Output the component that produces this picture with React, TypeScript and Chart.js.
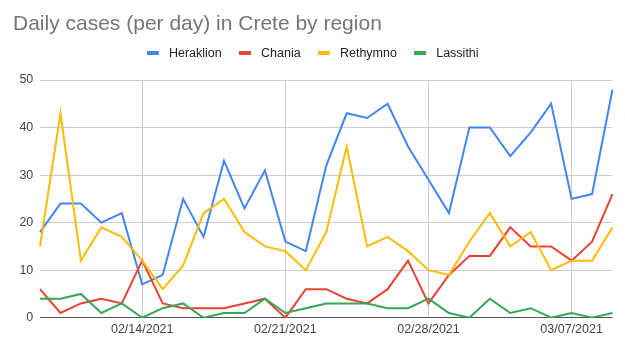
import React, { useEffect, useRef } from 'react';
import { Chart, registerables } from 'chart.js';

Chart.register(...registerables);

const dates = [
  '02/09/2021', '02/10/2021', '02/11/2021', '02/12/2021', '02/13/2021', '02/14/2021',
  '02/15/2021', '02/16/2021', '02/17/2021', '02/18/2021', '02/19/2021', '02/20/2021',
  '02/21/2021', '02/22/2021', '02/23/2021', '02/24/2021', '02/25/2021', '02/26/2021',
  '02/27/2021', '02/28/2021', '03/01/2021', '03/02/2021', '03/03/2021', '03/04/2021',
  '03/05/2021', '03/06/2021', '03/07/2021', '03/08/2021', '03/09/2021',
];
const tickLabels = ['02/14/2021', '02/21/2021', '02/28/2021', '03/07/2021'];

const heraklion = [18, 24, 24, 20, 22, 7, 9, 25, 17, 33, 23, 31, 16, 14, 32, 43, 42, 45, 36, 29, 22, 40, 40, 34, 39, 45, 25, 26, 48];
const chania = [6, 1, 3, 4, 3, 12, 3, 2, 2, 2, 3, 4, 0, 6, 6, 4, 3, 6, 12, 3, 9, 13, 13, 19, 15, 15, 12, 16, 26];
const rethymno = [15, 43, 12, 19, 17, 12, 6, 11, 22, 25, 18, 15, 14, 10, 18, 36, 15, 17, 14, 10, 9, 16, 22, 15, 18, 10, 12, 12, 19];
const lassithi = [4, 4, 5, 1, 3, 0, 2, 3, 0, 1, 1, 4, 1, 2, 3, 3, 3, 2, 2, 4, 1, 0, 4, 1, 2, 0, 1, 0, 1];

const seriesNames = ['Heraklion', 'Chania', 'Rethymno', 'Lassithi'];
const seriesColors = ['#4285F4', '#EA4335', '#FBBC04', '#34A853'];
const titleText = 'Daily cases (per day) in Crete by region';
const yTicks = { min: 0, max: 50, step: 10 };

const FAMILY = '"Liberation Sans", Arial, Helvetica, sans-serif';

export default function App() {
  const ref = useRef<HTMLCanvasElement>(null);

  useEffect(() => {
    const canvas = ref.current;
    if (!canvas) return;

    const swatches = seriesColors.map((c) => {
      const s = document.createElement('canvas');
      s.width = 16;
      s.height = 4;
      const g = s.getContext('2d');
      if (g) {
        g.fillStyle = c;
        g.fillRect(0, 0, 12, 4);
      }
      return s;
    });

    const legendSpacer = {
      id: 'legendSpacer',
      beforeInit(chart: any) {
        const lg = chart.legend;
        if (!lg) return;
        const fit = lg.fit;
        lg.fit = function () {
          fit.call(this);
          this.height += 10.45;
        };
      },
    };

    const values = [heraklion, chania, rethymno, lassithi];
    const tickFont = { family: FAMILY, size: 12.5 };

    const chart = new Chart(canvas, {
      type: 'line',
      data: {
        labels: dates,
        datasets: seriesNames.map((name, i) => ({
          label: name,
          data: values[i],
          borderColor: seriesColors[i],
          backgroundColor: seriesColors[i],
          borderWidth: 2,
          pointRadius: 0,
          pointHoverRadius: 0,
          tension: 0,
          fill: false,
          order: 3 - i,
        })),
      },
      options: {
        responsive: false,
        maintainAspectRatio: false,
        animation: false,
        layout: { padding: { left: 13, right: 12.5, top: 0, bottom: 0 } },
        plugins: {
          title: {
            display: true,
            text: titleText,
            align: 'start',
            color: '#757575',
            font: { family: FAMILY, size: 21, weight: 'normal', lineHeight: 10.7 / 21 },
            padding: { top: 19.05, bottom: 0 },
          },
          legend: {
            display: true,
            position: 'top',
            align: 'center',
            labels: {
              usePointStyle: true,
              pointStyleWidth: 15.75,
              padding: 17.3,
              color: '#222222',
              font: { family: FAMILY, size: 12.5 },
              sort: (a: any, b: any) => a.datasetIndex - b.datasetIndex,
              generateLabels: (ch: any) =>
                (Chart.defaults.plugins.legend.labels.generateLabels as any)(ch).map((it: any) => ({
                  ...it,
                  pointStyle: swatches[it.datasetIndex],
                })),
            },
          },
          tooltip: { enabled: false },
        },
        scales: {
          x: {
            type: 'category',
            offset: false,
            grid: {
              drawTicks: false,
              color: (ctx: any) =>
                ctx.tick && tickLabels.includes(ctx.tick.label) ? '#cccccc' : 'rgba(0,0,0,0)',
            },
            border: { display: false },
            ticks: {
              autoSkip: false,
              maxRotation: 0,
              minRotation: 0,
              padding: 4.5,
              color: '#444444',
              font: tickFont,
              callback: (_v: any, index: number) => {
                const l = dates[index];
                return tickLabels.includes(l) ? l : '';
              },
            },
            afterFit: (s: any) => {
              s.height = 38.3;
            },
          },
          y: {
            min: yTicks.min,
            max: yTicks.max,
            ticks: { stepSize: yTicks.step, padding: 6.7, color: '#444444', font: tickFont },
            grid: {
              drawTicks: false,
              color: (ctx: any) => (ctx.tick && ctx.tick.value === 0 ? '#555555' : '#cccccc'),
            },
            border: { display: false },
            afterFit: (s: any) => {
              s.width = 27;
            },
          },
        },
      } as any,
      plugins: [legendSpacer],
    });

    return () => chart.destroy();
  }, []);

  return (
    <div style={{ position: 'fixed', left: 0, top: 0, width: 625, height: 356, background: '#ffffff' }}>
      <canvas ref={ref} width={625} height={356} style={{ display: 'block', width: 625, height: 356 }} />
    </div>
  );
}
